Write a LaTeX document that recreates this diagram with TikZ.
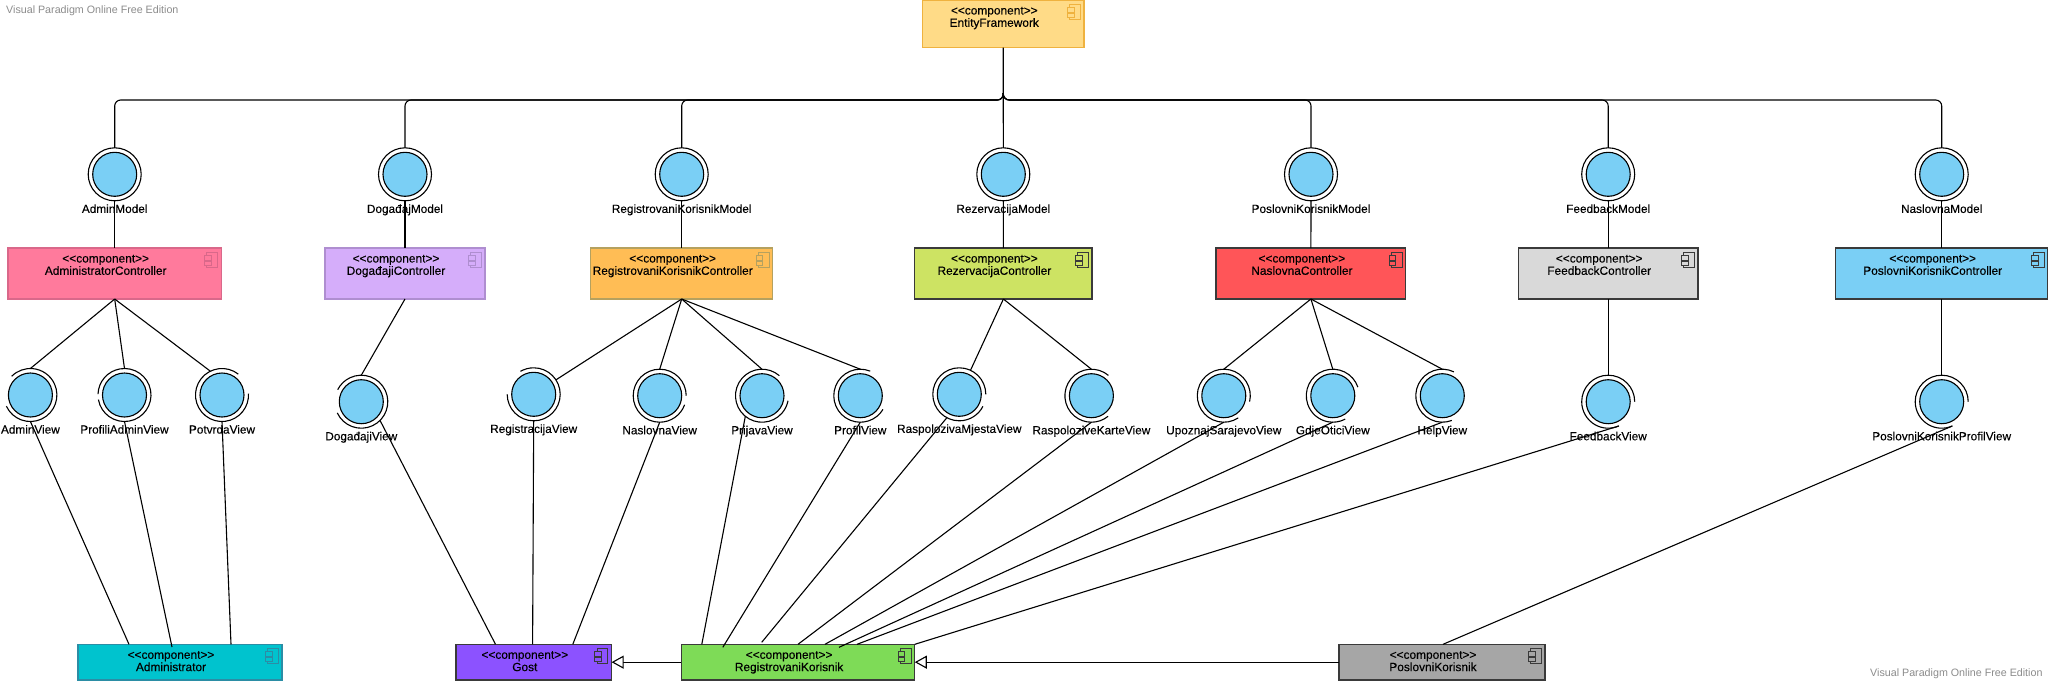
\documentclass[tikz,border=0pt]{standalone}
\usepackage{fontspec}
\setmainfont[FakeBold=0.15]{Liberation Sans}
\newfontfamily\wmfont{Liberation Sans}
\usetikzlibrary{arrows.meta}
\definecolor{ifcblue}{HTML}{7ACFF5}
\definecolor{wm}{HTML}{8C8C8C}
\definecolor{dk}{HTML}{3A3A3A}
\definecolor{fEF}{HTML}{FFDB87}\definecolor{dEF}{HTML}{EFB23F}
\definecolor{fAC}{HTML}{FF7A9C}\definecolor{dAC}{HTML}{D9688A}
\definecolor{fDC}{HTML}{D5ADFA}\definecolor{dDC}{HTML}{AF8ED0}
\definecolor{fRK}{HTML}{FFBD55}\definecolor{dRK}{HTML}{B5A15F}
\definecolor{fRZ}{HTML}{CDE363}
\definecolor{fNC}{HTML}{FF5558}
\definecolor{fFC}{HTML}{D9D9D9}
\definecolor{fAD}{HTML}{00C3CE}\definecolor{dAD}{HTML}{2B8DA5}
\definecolor{fGO}{HTML}{8C52FF}
\definecolor{fRG}{HTML}{7EDB57}
\definecolor{fPK}{HTML}{A6A6A6}
\tikzset{
  x=1pt,y=-1pt,
  conn/.style={line width=1.1pt,draw=black},
  bus/.style={line width=1.1pt,draw=black,rounded corners=6pt},
  compbox/.style={rectangle,line width=1.3pt,inner sep=0pt,outer sep=0pt},
  comptext/.style={anchor=north,align=center,inner sep=0pt,text=black,font=\fontsize{11.9}{12.3}\selectfont},
  ringnode/.style={circle,inner sep=0pt,outer sep=0pt,minimum size=53pt},
  disc/.style={fill=ifcblue,draw=black,line width=1.1pt},
  outerarc/.style={draw=black,line width=1.1pt},
  lbl/.style={inner sep=0pt,text=black,text height=8.6pt,text depth=2.4pt,font=\fontsize{11.8}{12.3}\selectfont},
  wmark/.style={inner sep=0pt,text=wm,font=\wmfont\fontsize{10.7}{12}\selectfont},
  gen/.style={line width=1.1pt,draw=black,-{Triangle[open,fill=white,length=12pt,width=13pt]}},
}
% name x1 y1 x2 y2 fill draw label
\newcommand{\Comp}[8]{%
  \pgfmathsetmacro{\cw}{#4-#2}\pgfmathsetmacro{\ch}{#5-#3}%
  \node[compbox,fill=#6,draw=#7,minimum width=\cw pt,minimum height=\ch pt] (#1) at ({(#2+#4)/2},{(#3+#5)/2}) {};
  \node[comptext] (#1T) at ([xshift=-9pt,yshift=-6.6pt]#1.north) {<{}<component>{}>\\#8};
  \draw[draw=#7,line width=1pt] ([xshift=-14.5pt,yshift=-4.6pt]#1.north east) rectangle ([xshift=-3.8pt,yshift=-19pt]#1.north east);
  \draw[draw=#7,fill=#6,line width=1pt] ([xshift=-16.8pt,yshift=-7.6pt]#1.north east) rectangle ([xshift=-10pt,yshift=-12pt]#1.north east);
  \draw[draw=#7,fill=#6,line width=1pt] ([xshift=-16.8pt,yshift=-13.3pt]#1.north east) rectangle ([xshift=-10pt,yshift=-17.3pt]#1.north east);
}
% name x y label
\newcommand{\ModelIfc}[4]{%
  \node[ringnode,draw=black,line width=1.1pt] (#1) at (#2,#3) {};
  \draw[disc] (#1.center) circle[radius=22pt];
  \node[lbl] (#1L) at ([yshift=-35.5pt]#1.center) {#4};
}
% name x y label gapstart gapend (arc runs from gap end round to gap start)
\newcommand{\ViewIfc}[6]{%
  \node[ringnode] (#1) at (#2,#3) {};
  \pgfmathsetmacro{\dl}{360-(#6-(#5))}%
  \draw[outerarc] (#1.#6) arc[start angle=#6,delta angle=\dl,radius=26.5pt];
  \draw[disc] (#1.center) circle[radius=22pt];
  \node[lbl] (#1L) at ([yshift=-35.5pt]#1.center) {#4};
}
\begin{document}
\begin{tikzpicture}
\useasboundingbox (0,0) rectangle (2048,681);
\fill[white] (0,0) rectangle (2048,681);
\node[wmark,anchor=west] (wm1) at (6,11) {Visual Paradigm Online Free Edition};
\node[wmark,anchor=east] (wm2) at (2042.7,673.5) {Visual Paradigm Online Free Edition};
\coordinate (busy) at (0,100);

\Comp{ef}{922.5}{0}{1084}{47.7}{fEF}{dEF}{EntityFramework}
\Comp{ac}{8}{248}{221.4}{299}{fAC}{dAC}{AdministratorController}
\Comp{dc}{325}{248}{485}{299}{fDC}{dDC}{DogađajiController}
\Comp{rc}{590.6}{248}{772.8}{299}{fRK}{dRK}{RegistrovaniKorisnikController}
\Comp{zc}{914.8}{248}{1092}{299}{fRZ}{dk}{RezervacijaController}
\Comp{nc}{1216}{248}{1405.8}{299}{fNC}{dk}{NaslovnaController}
\Comp{fc}{1518.4}{248}{1698}{299}{fFC}{dk}{FeedbackController}
\Comp{pc}{1835.4}{248}{2048}{299}{ifcblue}{dk}{PoslovniKorisnikController}
\Comp{ad}{78}{644.3}{282}{680}{fAD}{dAD}{Administrator}
\Comp{go}{456}{644.3}{611.6}{680}{fGO}{dk}{Gost}
\Comp{rg}{681.4}{644.3}{914.8}{680}{fRG}{dk}{RegistrovaniKorisnik}
\Comp{pk}{1339}{644.3}{1545}{680}{fPK}{dk}{PoslovniKorisnik}

% models
\ModelIfc{am}{114.7}{174.3}{AdminModel}
\ModelIfc{dm}{405}{174.3}{DogađajModel}
\ModelIfc{rm}{681.7}{174.3}{RegistrovaniKorisnikModel}
\ModelIfc{zm}{1003.3}{174.3}{RezervacijaModel}
\ModelIfc{pm}{1311}{174.3}{PoslovniKorisnikModel}
\ModelIfc{fm}{1608.2}{174.3}{FeedbackModel}
\ModelIfc{nm}{1941.7}{174.3}{NaslovnaModel}

% views
\ViewIfc{av}{30.4}{395}{AdminView}{135}{205}
\ViewIfc{pav}{124.5}{395}{ProfiliAdminView}{178}{190}
\ViewIfc{ptv}{222}{395}{PotvrdaView}{3}{52}
\ViewIfc{dv}{361.3}{401.7}{DogađajiView}{153}{205}
\ViewIfc{rgv}{533.7}{394.3}{RegistracijaView}{120}{180}
\ViewIfc{nv}{659.7}{395.7}{NaslovnaView}{-20}{0}
\ViewIfc{prv}{762}{395.7}{PrijavaView}{-11}{49}
\ViewIfc{pfv}{860.3}{395.7}{ProfilView}{-31}{68}
\ViewIfc{mv}{959.3}{394.3}{RaspolozivaMjestaView}{-27}{0}
\ViewIfc{kv}{1091.4}{395.7}{RaspoloziveKarteView}{-51}{50}
\ViewIfc{uv}{1223.8}{395.7}{UpoznajSarajevoView}{-57}{-13}
\ViewIfc{gv}{1332.8}{395.7}{GdjeOticiView}{-62}{19}
\ViewIfc{hv}{1442.3}{395.7}{HelpView}{-69}{64}
\ViewIfc{fv}{1608.2}{401.7}{FeedbackView}{-67}{0}
\ViewIfc{pv}{1941.7}{401.7}{PoslovniKorisnikProfilView}{-67}{0}

% entity framework bus
\coordinate (jn) at (ef.south |- 0,93);
\draw[conn] (ef.south) -- (zm.north);
\foreach \m in {am,dm,rm,pm,fm,nm}{
  \draw[bus] (jn) -- (jn |- busy) -- (\m.north |- busy) -- (\m.north);
}

% model to controller
\draw[conn] (am.south) -- (ac.north);
\draw[conn] (dm.south) -- (dc.north);
\draw[conn] (rm.south) -- (rc.north);
\draw[conn] (zm.south) -- (zc.north);
\draw[conn] (pm.south) -- (nc.north);
\draw[conn] (fm.south) -- (fc.north);
\draw[conn] (nm.south) -- (pc.north);

% controller to view
\draw[conn] (ac.south) -- (av.north);
\draw[conn] (ac.south) -- (pav.north);
\draw[conn] (ac.south) -- (ptv.116);
\draw[conn] (dc.south) -- (dv.north);
\draw[conn] (rc.south) -- (rgv.33);
\draw[conn] (rc.south) -- (nv.north);
\draw[conn] (rc.south) -- (prv.north);
\draw[conn] (rc.south) -- (pfv.north);
\draw[conn] (zc.south) -- (mv.65);
\draw[conn] (zc.south) -- (kv.north);
\draw[conn] (nc.south) -- (uv.north);
\draw[conn] (nc.south) -- (gv.north);
\draw[conn] (nc.south) -- (hv.north);
\draw[conn] (fc.south) -- (fv.north);
\draw[conn] (pc.south) -- (pv.north);

% view to actor
\draw[conn] (av.south) -- ([xshift=51pt]ad.north west);
\draw[conn] (pav.south) -- ([xshift=94pt,yshift=-2.7pt]ad.north west);
\draw[conn] (ptv.south) -- ([xshift=153pt]ad.north west);
\draw[conn] (dv.-45) -- ([xshift=39.5pt]go.north west);
\draw[conn] (rgv.south) -- ([xshift=76.6pt]go.north west);
\draw[conn] (nv.south) -- ([xshift=116.8pt]go.north west);
\draw[conn] (prv.231) -- ([xshift=20.4pt]rg.north west);
\draw[conn] (pfv.south) -- ([xshift=41.4pt,yshift=-3pt]rg.north west);
\draw[conn] (mv.242) -- ([xshift=80.3pt,yshift=2pt]rg.north west);
\draw[conn] (kv.south) -- ([xshift=116.6pt]rg.north west);
\draw[conn] (uv.south) -- ([xshift=143.6pt]rg.north west);
\draw[conn] (gv.south) -- ([xshift=157.6pt,yshift=-3pt]rg.north west);
\draw[conn] (hv.south) -- ([xshift=175.6pt]rg.north west);
\draw[conn] (fv.294) -- ([xshift=233.4pt]rg.north west);
\draw[conn] (pv.294) -- ([xshift=104pt]pk.north west);

% generalisation
\draw[gen] (rg.west) -- (go.east);
\draw[gen] (pk.west) -- (rg.east);
\end{tikzpicture}
\end{document}
